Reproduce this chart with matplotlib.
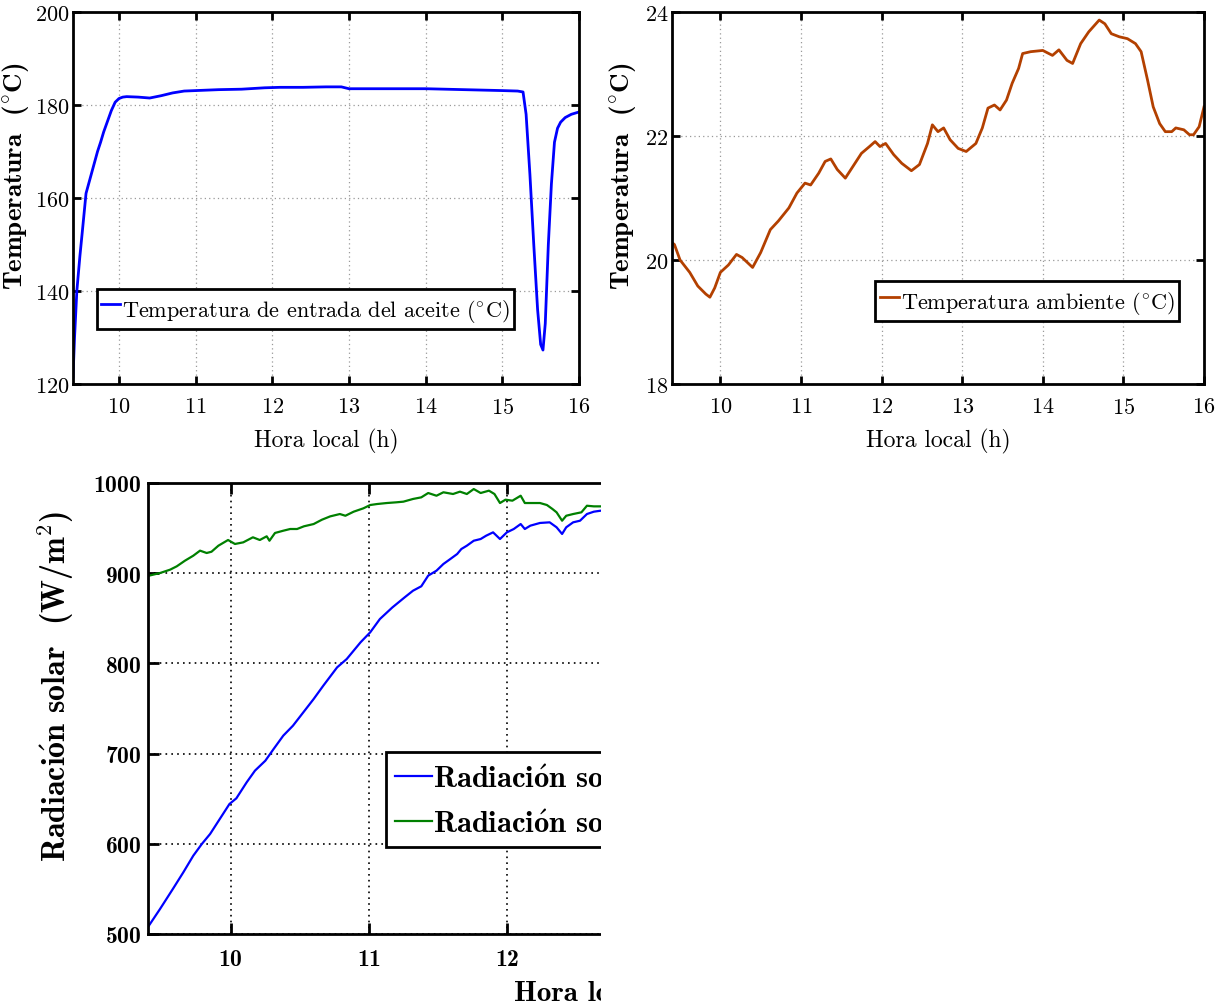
import matplotlib
matplotlib.use("Agg")
import matplotlib.pyplot as plt
from matplotlib.patches import Rectangle

plt.rcParams["mathtext.fontset"] = "cm"
plt.rcParams["axes.formatter.use_mathtext"] = True

# ---- Temperatura de entrada del aceite (°C) ----
t_oil = [9.40, 9.42, 9.45, 9.49, 9.52, 9.57, 9.62, 9.67, 9.72, 9.76, 9.80, 9.85,
         9.90, 9.95, 10.00, 10.05, 10.10, 10.25, 10.40, 10.55, 10.70, 10.85, 11.00,
         11.30, 11.60, 11.90, 12.10, 12.40, 12.70, 12.90, 13.00, 13.50, 14.00,
         14.50, 15.00, 15.20, 15.27, 15.31, 15.36, 15.41, 15.46, 15.50, 15.53,
         15.56, 15.60, 15.64, 15.68, 15.72, 15.76, 15.82, 15.90, 16.00]
oil_temp = [121.5, 130.0, 140.0, 147.5, 152.5, 161.0, 164.0, 167.0, 170.0, 172.0,
            174.2, 176.5, 178.8, 180.6, 181.4, 181.7, 181.8, 181.7, 181.5, 182.0,
            182.6, 183.0, 183.1, 183.3, 183.4, 183.7, 183.8, 183.8, 183.9, 183.9,
            183.5, 183.5, 183.5, 183.3, 183.1, 183.0, 182.8, 178.0, 165.0, 150.0,
            136.0, 128.5, 127.3, 133.0, 150.0, 163.0, 172.0, 175.0, 176.3, 177.3,
            178.0, 178.5]

# ---- Temperatura ambiente (°C) ----
t_amb = [9.40, 9.43, 9.50, 9.62, 9.72, 9.82, 9.87, 9.93, 10.00, 10.10, 10.20, 10.27,
         10.40, 10.50, 10.62, 10.72, 10.85, 10.95, 11.05, 11.12, 11.22, 11.30,
         11.37, 11.45, 11.55, 11.62, 11.75, 11.85, 11.92, 11.98, 12.05, 12.15,
         12.25, 12.37, 12.47, 12.57, 12.63, 12.70, 12.77, 12.85, 12.95, 13.05,
         13.17, 13.25, 13.32, 13.40, 13.47, 13.55, 13.62, 13.70, 13.75, 13.85,
         14.00, 14.12, 14.20, 14.30, 14.37, 14.47, 14.57, 14.70, 14.77, 14.85,
         14.95, 15.05, 15.15, 15.22, 15.30, 15.37, 15.45, 15.52, 15.60, 15.65,
         15.75, 15.82, 15.87, 15.94, 16.00]
amb_temp = [20.28, 20.25, 20.00, 19.80, 19.58, 19.45, 19.40, 19.55, 19.80, 19.92,
            20.09, 20.04, 19.88, 20.12, 20.49, 20.63, 20.84, 21.08, 21.24, 21.21,
            21.40, 21.59, 21.63, 21.46, 21.32, 21.46, 21.72, 21.83, 21.91, 21.83,
            21.88, 21.70, 21.56, 21.44, 21.54, 21.88, 22.18, 22.07, 22.13, 21.94,
            21.80, 21.75, 21.88, 22.13, 22.45, 22.50, 22.42, 22.58, 22.85, 23.09,
            23.33, 23.36, 23.38, 23.30, 23.39, 23.22, 23.17, 23.49, 23.68, 23.87,
            23.81, 23.65, 23.60, 23.57, 23.49, 23.36, 22.90, 22.47, 22.20, 22.07,
            22.07, 22.13, 22.10, 22.02, 22.02, 22.15, 22.47]

# ---- Radiación solar (W/m²) ----
t_rad1 = [9.39, 9.487, 9.58, 9.656, 9.728, 9.79, 9.85, 9.92, 9.99, 10.04, 10.115,
          10.175, 10.25, 10.31, 10.38, 10.45, 10.525, 10.60, 10.67, 10.77, 10.84,
          10.94, 11.01, 11.08, 11.17, 11.26, 11.32, 11.38, 11.43, 11.49, 11.54,
          11.59, 11.64, 11.67, 11.71, 11.76, 11.81, 11.85, 11.90, 11.95, 12.00,
          12.05, 12.10, 12.13, 12.17, 12.24, 12.31, 12.36, 12.40, 12.43, 12.48,
          12.53, 12.58, 12.63, 12.68, 12.75]
rad1 = [505.5, 527.7, 549.9, 568.4, 586.8, 599.8, 610.9, 627.5, 644.1, 650.4, 668.2,
        681.1, 692.1, 705.1, 719.9, 730.9, 745.7, 760.5, 775.3, 795.6, 804.9, 823.4,
        834.5, 849.2, 862.0, 873.3, 880.6, 885.5, 897.3, 902.8, 910.2, 915.7, 921.3,
        926.8, 930.5, 936.0, 937.9, 941.6, 945.3, 937.9, 945.3, 949.0, 954.5, 949.0,
        952.7, 955.7, 956.4, 950.9, 943.5, 950.9, 956.4, 958.2, 965.6, 968.2, 969.3,
        970.0]

t_rad2 = [9.40, 9.487, 9.56, 9.608, 9.668, 9.728, 9.777, 9.825, 9.86, 9.91, 9.98,
          10.03, 10.09, 10.16, 10.21, 10.26, 10.28, 10.32, 10.38, 10.43, 10.48,
          10.53, 10.60, 10.66, 10.72, 10.79, 10.83, 10.89, 10.96, 11.01, 11.06,
          11.13, 11.20, 11.25, 11.32, 11.38, 11.43, 11.49, 11.54, 11.61, 11.66,
          11.71, 11.76, 11.81, 11.87, 11.91, 11.95, 11.99, 12.04, 12.10, 12.13,
          12.17, 12.24, 12.29, 12.33, 12.36, 12.40, 12.43, 12.48, 12.54, 12.58,
          12.63, 12.68, 12.75]
rad2 = [897.0, 900.2, 903.9, 907.6, 913.9, 919.4, 925.0, 922.4, 923.8, 930.5, 936.8,
        932.4, 934.2, 939.8, 936.8, 940.9, 936.0, 944.6, 947.1, 949.0, 949.0, 952.0,
        954.5, 959.3, 963.0, 965.6, 963.7, 968.2, 971.9, 975.6, 976.7, 977.8, 978.6,
        979.3, 982.3, 984.1, 988.9, 985.9, 989.7, 987.8, 990.4, 987.8, 993.3, 988.9,
        991.5, 987.8, 977.8, 981.5, 980.4, 985.9, 977.8, 977.8, 977.8, 975.6, 971.2,
        967.5, 958.2, 963.7, 965.6, 967.5, 974.8, 974.1, 974.1, 974.0]

hour_ticks = [10, 11, 12, 13, 14, 15, 16]
oil_ticks = [120, 140, 160, 180, 200]
amb_ticks = [18, 20, 22, 24]
rad_ticks = [500, 600, 700, 800, 900, 1000]

# bold "ó" comes from the Computer Modern math fonts
RADIACION = r"Radiaci$\mathbf{\acute{o}}$n"

W, H = 1231, 1003
fig = plt.figure(figsize=(W / 100, H / 100), dpi=100)


def add_axes_px(left, top, right, bottom):
    return fig.add_axes([left / W, 1 - bottom / H, (right - left) / W, (bottom - top) / H])


def matlab_style(ax, grid_color, grid_lw, tick_len, tick_size, tick_family, xpad, ypad):
    for sp in ax.spines.values():
        sp.set_linewidth(2.0)
        sp.set_color("black")
    ax.tick_params(direction="in", top=True, right=True, length=tick_len, width=2.0,
                   labelsize=tick_size, labelfontfamily=tick_family)
    ax.tick_params(axis="x", pad=xpad)
    ax.tick_params(axis="y", pad=ypad)
    ax.grid(True, linestyle=(0, (1, 2.5)), color=grid_color, linewidth=grid_lw)
    ax.set_axisbelow(True)


def boxed_legend(ax, anchor, family, size, **kw):
    leg = ax.legend(loc="lower left", bbox_to_anchor=anchor, borderaxespad=0,
                    prop={"family": family, "size": size}, fancybox=False,
                    framealpha=1, **kw)
    leg.get_frame().set_edgecolor("black")
    leg.get_frame().set_linewidth(2.0)
    return leg


# Oil inlet temperature
ax1 = add_axes_px(73, 13, 579, 385)
ax1.plot(t_oil, oil_temp, color="#0000ff", lw=2.0,
         label=r"Temperatura de entrada del aceite ($^{\circ}$C)")
ax1.set_xlim(9.4, 16)
ax1.set_ylim(120, 200)
ax1.set_xticks(hour_ticks)
ax1.set_yticks(oil_ticks)
matlab_style(ax1, "#999999", 0.9, 6, 16, "cmr10", 9, 2.5)
ax1.set_xlabel("Hora local (h)", fontsize=17, family="cmr10", labelpad=8)
ax1.set_ylabel(r"Temperatura  ($^{\circ}$C)", fontsize=19.5, family="cmb10")
ax1.yaxis.set_label_coords(-0.083, 0.56)
boxed_legend(ax1, (0.047, 0.148), "cmr10", 16, handlelength=0.85,
             handleheight=1.8, handletextpad=0.1, borderpad=0.2)

# Ambient temperature
ax2 = add_axes_px(672, 13, 1204, 385)
ax2.plot(t_amb, amb_temp, color="#b34000", lw=2.0,
         label=r"Temperatura ambiente ($^{\circ}$C)")
ax2.set_xlim(9.4, 16)
ax2.set_ylim(18, 24)
ax2.set_xticks(hour_ticks)
ax2.set_yticks(amb_ticks)
matlab_style(ax2, "#999999", 0.9, 6, 16, "cmr10", 9, 2.5)
ax2.set_xlabel("Hora local (h)", fontsize=17, family="cmr10", labelpad=8)
ax2.set_ylabel(r"Temperatura  ($^{\circ}$C)", fontsize=19.5, family="cmb10")
ax2.yaxis.set_label_coords(-0.064, 0.56)
boxed_legend(ax2, (0.382, 0.169), "cmr10", 16, handlelength=0.85,
             handleheight=1.8, handletextpad=0.1, borderpad=0.2)

# Solar radiation
ax3 = add_axes_px(148, 484, 1059, 935)
ax3.plot(t_rad1, rad1, color="#0000ff", lw=1.6, label=RADIACION + " solar global")
ax3.plot(t_rad2, rad2, color="#008000", lw=1.6, label=RADIACION + " solar directa")
ax3.set_xlim(9.4, 16)
ax3.set_ylim(500, 1000)
ax3.set_xticks(hour_ticks)
ax3.set_yticks(rad_ticks)
matlab_style(ax3, "black", 1.2, 8, 17, "cmb10", 10, 5)
ax3.set_xlabel("Hora local (h)", fontsize=21, family="cmb10", labelpad=6)
ax3.set_ylabel(RADIACION + r" solar  (W/m$^{\mathbf{2}}$)", fontsize=23, family="cmb10")
ax3.yaxis.set_label_coords(-0.079, 0.552)
boxed_legend(ax3, (0.261, 0.193), "cmb10", 22, handlelength=1.2,
             handletextpad=0.05, borderpad=0.3, labelspacing=0.5)

# The radiation panel is cut off on the right side of the page
fig.add_artist(Rectangle((601 / W, 0), 1 - 601 / W, 1 - 462 / H,
                         transform=fig.transFigure, facecolor="white",
                         edgecolor="none", zorder=50))

fig.savefig("out.png", dpi=100)
